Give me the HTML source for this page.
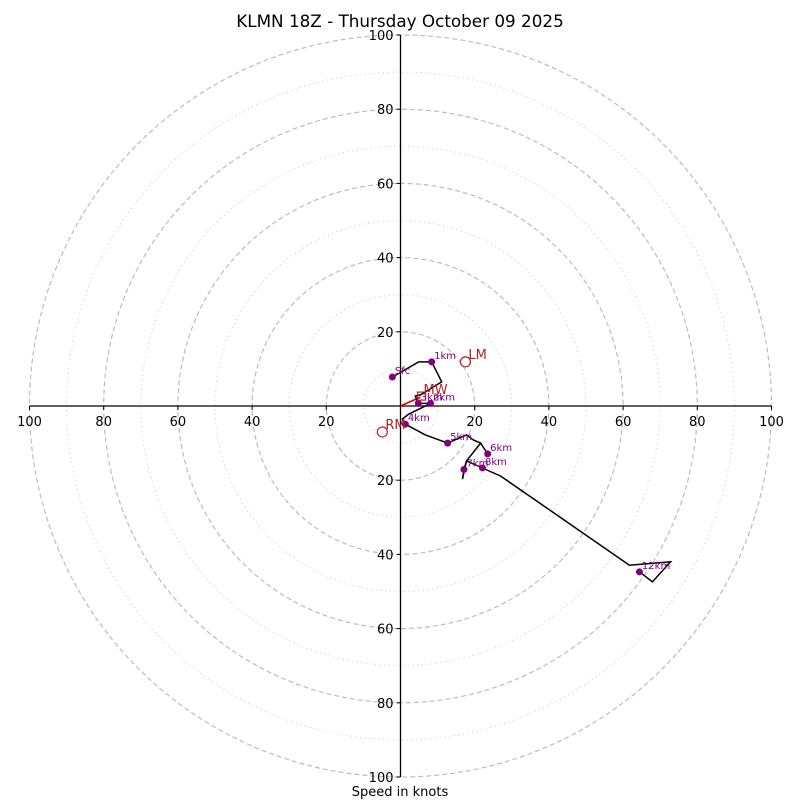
<!DOCTYPE html>
<html><head><meta charset="utf-8"><style>
html,body{margin:0;padding:0;background:#fff;width:800px;height:800px;overflow:hidden}
svg{display:block;font-family:"DejaVu Sans","Liberation Sans",sans-serif}
</style></head><body>
<svg id="chart" width="800" height="800" viewBox="0 0 800 800">
<text x="400" y="27" text-anchor="middle" font-size="16.8" fill="#000">KLMN 18Z - Thursday October 09 2025</text>
<text x="400" y="796" text-anchor="middle" font-size="13" fill="#000">Speed in knots</text>
<g id="rings"></g><g id="axes"></g><g id="series"></g>
</svg>
<script>
const windU=[-2.2,4.9,8.4,11.1,5.4,4.0,4.8,8.1,2.2,0.5,1.3,6.7,12.7,17.8,19.7,21.6,23.5,21.6,17.8,16.7,17.1,17.8,22.1,27.0,61.7,72.8,67.9,64.4];
const windV=[7.8,11.9,11.9,6.5,3.0,2.7,0.7,0.7,-2.2,-3.5,-4.9,-7.8,-10.0,-7.8,-9.2,-10.0,-12.9,-10.0,-14.8,-19.7,-17.1,-14.8,-16.7,-18.9,-42.9,-42.0,-47.4,-44.7];
const heightLabels=["Sfc","1km","2km","3km","4km","5km","6km","7km","8km","12km"];
const heightU=[-2.2,8.4,8.1,4.8,1.3,12.7,23.5,17.1,22.1,64.4];
const heightV=[7.8,11.9,0.7,0.7,-4.9,-10.0,-12.9,-17.1,-16.7,-44.7];
const motionLabels=["LM","MW","RM"];
const motionU=[17.5,5.4,-4.9];
const motionV=[11.9,2.4,-7.0];
const tickValues=[20,40,60,80,100];
const ringValues=[10,20,30,40,50,60,70,80,90,100];

const NS="http://www.w3.org/2000/svg";
const cx=400.5,cy=406,S=3.71;
const X=u=>cx+u*S, Y=v=>cy-v*S;
function mk(tag,attrs,parent,txt){const e=document.createElementNS(NS,tag);for(const k in attrs)e.setAttribute(k,attrs[k]);if(txt!=null)e.textContent=txt;parent.appendChild(e);return e;}
const rings=document.getElementById('rings'),axes=document.getElementById('axes'),series=document.getElementById('series');
ringValues.forEach(r=>{
  const major=r%20===0;
  const c=mk('circle',{cx:cx,cy:cy,r:r*S,fill:'none',stroke:major?'#bdbdbd':'#d0d0d0','stroke-width':major?1.2:1,'stroke-dasharray':major?'5,3':'1.2,3.5'},rings);
  
  
});
let a=mk('line',{x1:X(-100),y1:cy,x2:X(100),y2:cy,stroke:'#000','stroke-width':1.3},axes);

a=mk('line',{x1:cx,y1:Y(100),x2:cx,y2:Y(-100),stroke:'#000','stroke-width':1.3},axes);

tickValues.forEach(t=>{
  [-1,1].forEach(sg=>{
    mk('line',{x1:X(sg*t),y1:cy,x2:X(sg*t),y2:cy+4,stroke:'#000','stroke-width':1},axes);
    const tx=mk('text',{x:X(sg*t),y:cy+20,'text-anchor':'middle','font-size':13,fill:'#000'},axes,String(t));
    
    mk('line',{x1:cx-4,y1:Y(sg*t),x2:cx,y2:Y(sg*t),stroke:'#000','stroke-width':1},axes);
    const ty=mk('text',{x:cx-7,y:Y(sg*t)+5,'text-anchor':'end','font-size':13,fill:'#000'},axes,String(t));
    
  });
});
let mv=mk('line',{x1:cx,y1:cy,x2:X(motionU[1]),y2:Y(motionV[1]),stroke:'#e00000','stroke-width':1.6},series);

let pts=windU.map((u,i)=>X(u).toFixed(1)+','+Y(windV[i]).toFixed(1)).join(' ');
let pl=mk('polyline',{points:pts,fill:'none',stroke:'#000','stroke-width':1.5,'stroke-linejoin':'miter'},series);

heightLabels.forEach((lb,i)=>{
  const d=mk('circle',{cx:X(heightU[i]),cy:Y(heightV[i]),r:3.5,fill:'#800080'},series);
  
  
  const t=mk('text',{x:X(heightU[i])+2.5,y:Y(heightV[i])-3,'font-size':10,fill:'#800080'},series,lb);
  
  
});
motionLabels.forEach((lb,i)=>{
  const px=X(motionU[i]),py=Y(motionV[i]);
  let m;
  if(lb==='MW') m=mk('rect',{x:px-3,y:py-5,width:8,height:8,fill:'none',stroke:'#b22222','stroke-width':1.2},series);
  else m=mk('circle',{cx:px,cy:py,r:5,fill:'none',stroke:'#b22222','stroke-width':1.2},series);
  
  
  const t=mk('text',{x:px+3,y:py-3,'font-size':13,fill:'#b22222'},series,lb);
  
  
});
</script>
</body></html>
